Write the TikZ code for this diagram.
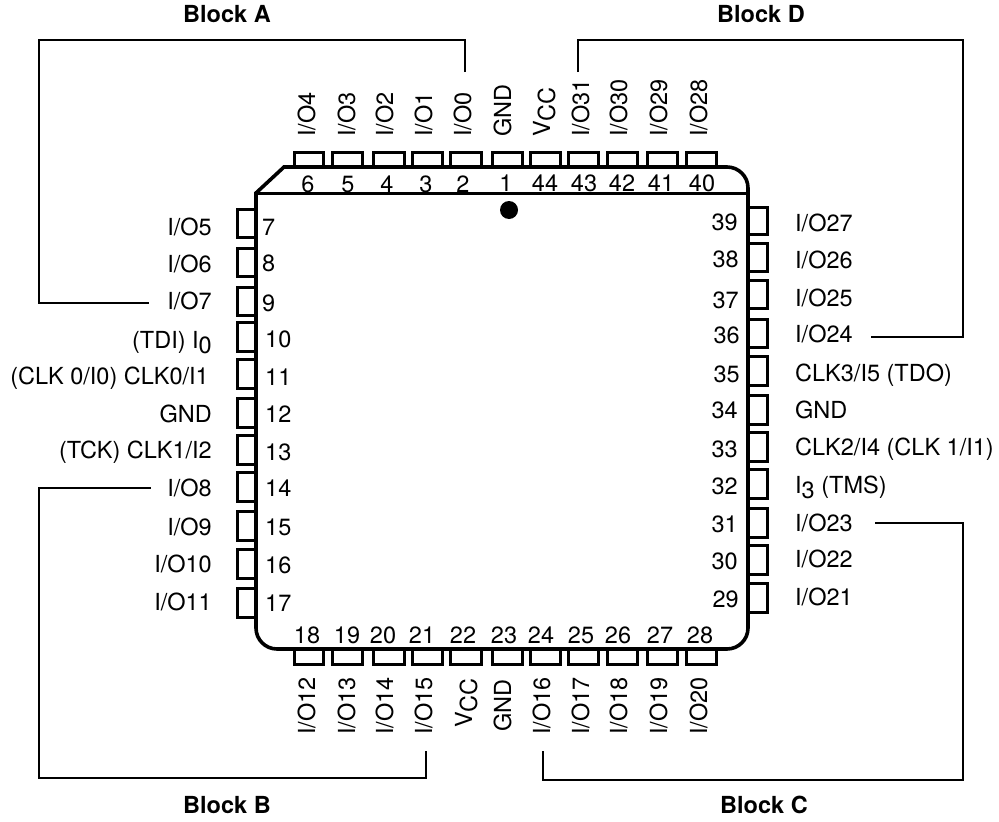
\documentclass[tikz,border=0pt]{standalone}
\usepackage{fontspec}
\setmainfont{TeX Gyre Heros}
\newcommand{\lowr}[1]{\raisebox{-5pt}{#1}}
\tikzset{
	pin/.style={line width=3pt},
	wire/.style={line width=1.9pt},
	txt/.style={inner sep=0pt, font=\fontsize{23.5}{25}\selectfont},
	lefttxt/.style={txt, anchor=base east},
	righttxt/.style={txt, anchor=base west},
	midtxt/.style={txt, anchor=base},
	uptxt/.style={txt, anchor=base west, rotate=90},
	blocktxt/.style={inner sep=0pt, anchor=base, font=\fontsize{23.5}{25}\selectfont\bfseries}
}

\begin{document}
\begin{tikzpicture}[x=1pt, y=-1pt]
	%%%%% START %%%%%
	\useasboundingbox (0, 0) rectangle (999, 822);

	% top pins
	\draw[pin] (294, 167) rectangle (323, 152);
	\draw[pin] (332, 167) rectangle (362, 152);
	\draw[pin] (373, 167) rectangle (404, 152);
	\draw[pin] (412, 167) rectangle (442, 152);
	\draw[pin] (450, 167) rectangle (481, 152);
	\draw[pin] (492, 167) rectangle (522, 152);
	\draw[pin] (530, 167) rectangle (560, 152);
	\draw[pin] (568, 167) rectangle (598, 152);
	\draw[pin] (607, 167) rectangle (637, 152);
	\draw[pin] (647, 167) rectangle (677, 152);
	\draw[pin] (686, 167) rectangle (716, 152);

	% bottom pins
	\draw[pin] (294, 649) rectangle (323, 664);
	\draw[pin] (332, 649) rectangle (362, 664);
	\draw[pin] (373, 649) rectangle (404, 664);
	\draw[pin] (412, 649) rectangle (442, 664);
	\draw[pin] (450, 649) rectangle (481, 664);
	\draw[pin] (492, 649) rectangle (522, 664);
	\draw[pin] (530, 649) rectangle (560, 664);
	\draw[pin] (568, 649) rectangle (598, 664);
	\draw[pin] (607, 649) rectangle (637, 664);
	\draw[pin] (647, 649) rectangle (677, 664);
	\draw[pin] (686, 649) rectangle (716, 664);

	% left pins
	\draw[pin] (256, 209) rectangle (237, 237);
	\draw[pin] (256, 248) rectangle (237, 276);
	\draw[pin] (256, 287) rectangle (237, 315);
	\draw[pin] (256, 322) rectangle (237, 351);
	\draw[pin] (256, 359) rectangle (237, 388);
	\draw[pin] (256, 398) rectangle (237, 427);
	\draw[pin] (256, 435) rectangle (237, 464);
	\draw[pin] (256, 472) rectangle (237, 501);
	\draw[pin] (256, 511) rectangle (237, 540);
	\draw[pin] (256, 549) rectangle (237, 578);
	\draw[pin] (256, 588) rectangle (237, 617);

	% right pins
	\draw[pin] (748, 207) rectangle (767, 234);
	\draw[pin] (748, 243) rectangle (767, 271);
	\draw[pin] (748, 280) rectangle (767, 308);
	\draw[pin] (748, 319) rectangle (767, 347);
	\draw[pin] (748, 356) rectangle (767, 385);
	\draw[pin] (748, 395) rectangle (767, 424);
	\draw[pin] (748, 432) rectangle (767, 461);
	\draw[pin] (748, 469) rectangle (767, 498);
	\draw[pin] (748, 508) rectangle (767, 537);
	\draw[pin] (748, 545) rectangle (767, 574);
	\draw[pin] (748, 583) rectangle (767, 612);

	% package body
	\draw[line width=3.6pt, fill=white] (284, 167) [rounded corners=21pt] -- (748, 167) -- (748, 649) -- (256, 649) [sharp corners] -- (256, 193) -- cycle;
	\draw[line width=3pt] (256, 193) -- (748, 193);
	\fill (509, 210) circle (9);

	% top numbers
	\node[midtxt] (n6) at (308, 192) {6};
	\node[midtxt] (n5) at (348, 192) {5};
	\node[midtxt] (n4) at (387, 192) {4};
	\node[midtxt] (n3) at (426, 192) {3};
	\node[midtxt] (n2) at (463, 192) {2};
	\node[midtxt] (n1) at (506, 191) {1};
	\node[midtxt] (n44) at (545, 191) {44};
	\node[midtxt] (n43) at (584, 191) {43};
	\node[midtxt] (n42) at (622, 191) {42};
	\node[midtxt] (n41) at (661, 191) {41};
	\node[midtxt] (n40) at (702, 191) {40};

	% bottom numbers
	\node[midtxt] (n18) at (307, 643) {18};
	\node[midtxt] (n19) at (347, 643) {19};
	\node[midtxt] (n20) at (383, 643) {20};
	\node[midtxt] (n21) at (422, 643) {21};
	\node[midtxt] (n22) at (463, 643) {22};
	\node[midtxt] (n23) at (504, 643) {23};
	\node[midtxt] (n24) at (541, 643) {24};
	\node[midtxt] (n25) at (581, 643) {25};
	\node[midtxt] (n26) at (618, 643) {26};
	\node[midtxt] (n27) at (660, 643) {27};
	\node[midtxt] (n28) at (700, 643) {28};

	% left numbers
	\node[righttxt] (n7) at (262, 235) {7};
	\node[righttxt] (n8) at (262, 271) {8};
	\node[righttxt] (n9) at (262, 311) {9};
	\node[righttxt] (n10) at (265, 347) {10};
	\node[righttxt] (n11) at (265, 385) {11};
	\node[righttxt] (n12) at (265, 422) {12};
	\node[righttxt] (n13) at (265, 460) {13};
	\node[righttxt] (n14) at (265, 496) {14};
	\node[righttxt] (n15) at (265, 535) {15};
	\node[righttxt] (n16) at (265, 573) {16};
	\node[righttxt] (n17) at (265, 611) {17};

	% right numbers
	\node[lefttxt] (n39) at (738, 230) {39};
	\node[lefttxt] (n38) at (739, 267) {38};
	\node[lefttxt] (n37) at (739, 308) {37};
	\node[lefttxt] (n36) at (740, 343) {36};
	\node[lefttxt] (n35) at (740, 382) {35};
	\node[lefttxt] (n34) at (738, 418) {34};
	\node[lefttxt] (n33) at (738, 457) {33};
	\node[lefttxt] (n32) at (738, 494) {32};
	\node[lefttxt] (n31) at (738, 532) {31};
	\node[lefttxt] (n30) at (738, 569) {30};
	\node[lefttxt] (n29) at (739, 607) {29};

	% top labels
	\node[uptxt] (io4) at (315, 137) {I/O4};
	\node[uptxt] (io3) at (355, 137) {I/O3};
	\node[uptxt] (io2) at (393, 137) {I/O2};
	\node[uptxt] (io1) at (432, 137) {I/O1};
	\node[uptxt] (io0) at (471, 137) {I/O0};
	\node[uptxt] (gndtop) at (511, 137) {GND};
	\node[uptxt] (vcctop) at (550, 137) {V\lowr{CC}};
	\node[uptxt] (io31) at (589, 137) {I/O31};
	\node[uptxt] (io30) at (627, 137) {I/O30};
	\node[uptxt] (io29) at (667, 137) {I/O29};
	\node[uptxt] (io28) at (707, 137) {I/O28};

	% bottom labels
	\node[uptxt] (io12) at (315, 735) {I/O12};
	\node[uptxt] (io13) at (355, 735) {I/O13};
	\node[uptxt] (io14) at (393, 735) {I/O14};
	\node[uptxt] (io15) at (432, 735) {I/O15};
	\node[uptxt] (vccbot) at (472, 728) {V\lowr{CC}};
	\node[uptxt] (gndbot) at (511, 732) {GND};
	\node[uptxt] (io16) at (550, 735) {I/O16};
	\node[uptxt] (io17) at (589, 735) {I/O17};
	\node[uptxt] (io18) at (627, 735) {I/O18};
	\node[uptxt] (io19) at (667, 735) {I/O19};
	\node[uptxt] (io20) at (707, 735) {I/O20};

	% left labels
	\node[lefttxt] (io5) at (212, 235) {I/O5};
	\node[lefttxt] (io6) at (212, 272) {I/O6};
	\node[lefttxt] (io7) at (212, 309) {I/O7};
	\node[lefttxt] (tdi) at (212, 348) {(TDI) I\lowr{0}};
	\node[lefttxt] (clkzero) at (209, 384) {(CLK 0/I0) CLK0/I1};
	\node[lefttxt] (gndleft) at (212, 422) {GND};
	\node[lefttxt] (tck) at (212, 458) {(TCK) CLK1/I2};
	\node[lefttxt] (io8) at (212, 496) {I/O8};
	\node[lefttxt] (io9) at (212, 535) {I/O9};
	\node[lefttxt] (io10) at (212, 572) {I/O10};
	\node[lefttxt] (io11) at (212, 610) {I/O11};

	% right labels
	\node[righttxt] (io27) at (795, 231) {I/O27};
	\node[righttxt] (io26) at (795, 268) {I/O26};
	\node[righttxt] (io25) at (795, 306) {I/O25};
	\node[righttxt] (io24) at (795, 342) {I/O24};
	\node[righttxt] (tdo) at (795, 381) {CLK3/I5 (TDO)};
	\node[righttxt] (gndright) at (795, 418) {GND};
	\node[righttxt] (clktwo) at (795, 455) {CLK2/I4 (CLK 1/I1)};
	\node[righttxt] (tms) at (795, 493) {I\lowr{3} (TMS)};
	\node[righttxt] (io23) at (795, 531) {I/O23};
	\node[righttxt] (io22) at (795, 567) {I/O22};
	\node[righttxt] (io21) at (795, 605) {I/O21};

	% block labels
	\node[blocktxt] (blocka) at (227, 22) {Block A};
	\node[blocktxt] (blockd) at (761, 22) {Block D};
	\node[blocktxt] (blockb) at (227, 813) {Block B};
	\node[blocktxt] (blockc) at (764, 813) {Block C};

	% brackets
	\coordinate (cornera) at (39, 40);
	\coordinate (cornerd) at (963, 40);
	\coordinate (cornerb) at (39, 778);
	\coordinate (cornerc) at (963, 780);
	\coordinate (enda) at (465, 72);
	\coordinate (endd) at (578, 72);
	\coordinate (endb) at (426, 751);
	\coordinate (endc) at (543, 751);

	\draw[wire] (enda) |- (cornera) |- ([xshift=-18pt, yshift=6pt]io7.base west);
	\draw[wire] (endd) |- (cornerd) |- ([xshift=18pt, yshift=5pt]io24.base east);
	\draw[wire] (endb) |- (cornerb) |- ([xshift=-16pt, yshift=8pt]io8.base west);
	\draw[wire] (endc) |- (cornerc) |- ([xshift=22pt, yshift=8pt]io23.base east);
	%%%%% END %%%%%
\end{tikzpicture}
\end{document}
